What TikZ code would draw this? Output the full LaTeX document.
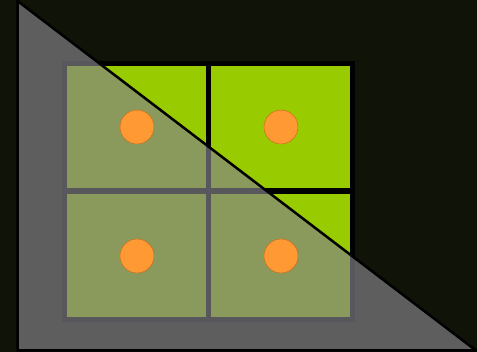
\documentclass[tikz,border=0pt]{standalone}
\usetikzlibrary{positioning}
\definecolor{nightbg}{RGB}{16,19,8}
\definecolor{leafgreen}{RGB}{153,204,0}
\definecolor{dotorange}{RGB}{255,153,51}
\definecolor{dotrim}{RGB}{200,110,30}
\definecolor{shadegrey}{RGB}{131,131,136}
\begin{document}
\begin{tikzpicture}[x=1pt, y=-1pt]
      \fill[nightbg] (0,0) rectangle (477,352);
      \useasboundingbox (0,0) rectangle (477,352);
      % frame and cells
      \fill[black] (62,61) rectangle (355,322);
      \foreach \col/\row/\high in {67/66/122, 211/66/122, 67/194/123, 211/194/123}{
        \fill[leafgreen] (\col,\row) rectangle ++(139,\high);
        }
      % shade
      \fill[shadegrey, opacity=.68] (17.5,1) -- (17.5,350.5) -- (476,350.5) -- cycle;
      \draw[black, line width=2.5pt, line join=miter] (17.5,1) -- (17.5,350.5) -- (476,350.5) -- cycle;
      % dots
      \foreach \x in {137,281}{
        \foreach \y in {127,256}{
            \filldraw[fill=dotorange, draw=dotrim, line width=.5pt] (\x,\y) circle[radius=17pt];
          }
        }
    \end{tikzpicture}
\end{document}
